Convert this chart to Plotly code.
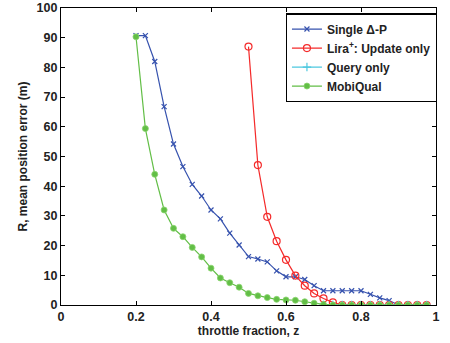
import plotly.graph_objects as go

x_single = [0.2, 0.225, 0.25, 0.275, 0.3, 0.325, 0.35, 0.375, 0.4, 0.425, 0.45, 0.475, 0.5, 0.525, 0.55,
            0.575, 0.6, 0.625, 0.65, 0.675, 0.7, 0.725, 0.75, 0.775, 0.8, 0.825, 0.85, 0.875, 0.9,
            0.925, 0.95, 0.975]
y_single = [90.7, 90.7, 82.0, 66.8, 54.2, 46.6, 40.6, 36.7, 32.0, 29.0, 24.2, 20.2, 16.3, 15.5, 14.5,
            11.5, 9.5, 9.5, 8.6, 6.5, 4.8, 4.8, 4.8, 4.8, 4.8, 3.6, 2.4, 1.5, 0.0,
            0.0, 0.0, 0.0]

x_lira = [0.5, 0.525, 0.55, 0.575, 0.6, 0.625, 0.65, 0.675, 0.7, 0.725, 0.75, 0.775, 0.8, 0.825,
          0.85, 0.875, 0.9, 0.925, 0.95, 0.975]
y_lira = [87.0, 47.1, 29.7, 21.5, 15.2, 9.9, 6.5, 3.9, 2.2, 0.9, 0.0, 0.0, 0.0, 0.0,
          0.0, 0.0, 0.0, 0.0, 0.0, 0.0]

x_query = [0.7, 0.725, 0.75, 0.775, 0.8, 0.825, 0.85, 0.875, 0.9, 0.925, 0.95, 0.975]
y_query = [0.0, 0.0, 0.0, 0.0, 0.0, 0.0, 0.0, 0.0, 0.0, 0.0, 0.0, 0.0]

x_mobi = [0.2, 0.225, 0.25, 0.275, 0.3, 0.325, 0.35, 0.375, 0.4, 0.425, 0.45, 0.475, 0.5, 0.525,
          0.55, 0.575, 0.6, 0.625, 0.65, 0.675, 0.7, 0.725, 0.75, 0.775, 0.8, 0.825, 0.85,
          0.875, 0.9, 0.925, 0.95, 0.975]
y_mobi = [90.3, 59.4, 44.0, 32.0, 25.8, 23.0, 19.4, 16.2, 12.4, 9.1, 7.5, 6.0, 3.9, 3.1,
          2.5, 1.9, 1.7, 1.6, 1.1, 0.6, 0.2, 0.0, 0.0, 0.0, 0.0, 0.0, 0.0,
          0.0, 0.0, 0.0, 0.0, 0.0]

x_ticks = [0, 0.2, 0.4, 0.6, 0.8, 1]
x_ticklabels = ["0", "0.2", "0.4", "0.6", "0.8", "1"]
y_ticks = [0, 10, 20, 30, 40, 50, 60, 70, 80, 90, 100]

BLUE = "#3652AE"
RED = "#F42A2A"
CYAN = "#4CC8DF"
GREEN = "#62BE46"

fig = go.Figure()
fig.add_trace(go.Scatter(x=x_single, y=y_single, name="Single Δ-P", mode="lines+markers",
                         line=dict(color=BLUE, width=1.2),
                         marker=dict(symbol="x-thin", size=5, line=dict(color=BLUE, width=1.2))))
fig.add_trace(go.Scatter(x=x_lira, y=y_lira, name="Lira<sup>+</sup>: Update only", mode="lines+markers",
                         line=dict(color=RED, width=1.2),
                         marker=dict(symbol="circle-open", size=7, color=RED, line=dict(color=RED, width=1.2))))
fig.add_trace(go.Scatter(x=x_query, y=y_query, name="Query only", mode="lines+markers",
                         line=dict(color=CYAN, width=1.2),
                         marker=dict(symbol="cross-thin", size=6, line=dict(color=CYAN, width=1.2))))
fig.add_trace(go.Scatter(x=x_mobi, y=y_mobi, name="MobiQual", mode="lines+markers",
                         line=dict(color=GREEN, width=1.2),
                         marker=dict(symbol="circle", size=6, color=GREEN, line=dict(color="#8AD46E", width=0.8))))

axis_common = dict(showgrid=False, zeroline=False, showline=True, linecolor="black", linewidth=1.2,
                   mirror="ticks", ticks="inside", ticklen=4, tickcolor="black", tickwidth=1,
                   automargin=False,
                   tickfont=dict(family="Liberation Sans, Arial", size=12.5, color="#222", weight="bold"))

fig.update_layout(
    width=450, height=343,
    margin=dict(l=61, r=14, t=8, b=38),
    paper_bgcolor="white", plot_bgcolor="white",
    font=dict(family="Liberation Sans, Arial", color="#222"),
    xaxis=dict(range=[0, 1], tickvals=x_ticks, ticktext=x_ticklabels,
               title=dict(text="throttle fraction, z", standoff=2,
                          font=dict(size=12, weight="bold", color="#222")),
               **axis_common),
    yaxis=dict(range=[0, 100], tickvals=y_ticks,
               title=dict(text="R, mean position error (m)", standoff=6,
                          font=dict(size=12, weight="bold", color="#222")),
               **axis_common),
    legend=dict(x=1.002, y=0.982, xanchor="right", yanchor="top",
                bordercolor="black", borderwidth=1.2, bgcolor="white",
                font=dict(size=12, weight="bold", color="#222"),
                tracegroupgap=0, itemwidth=30),
    showlegend=True,
)

fig.write_html("out.html")
